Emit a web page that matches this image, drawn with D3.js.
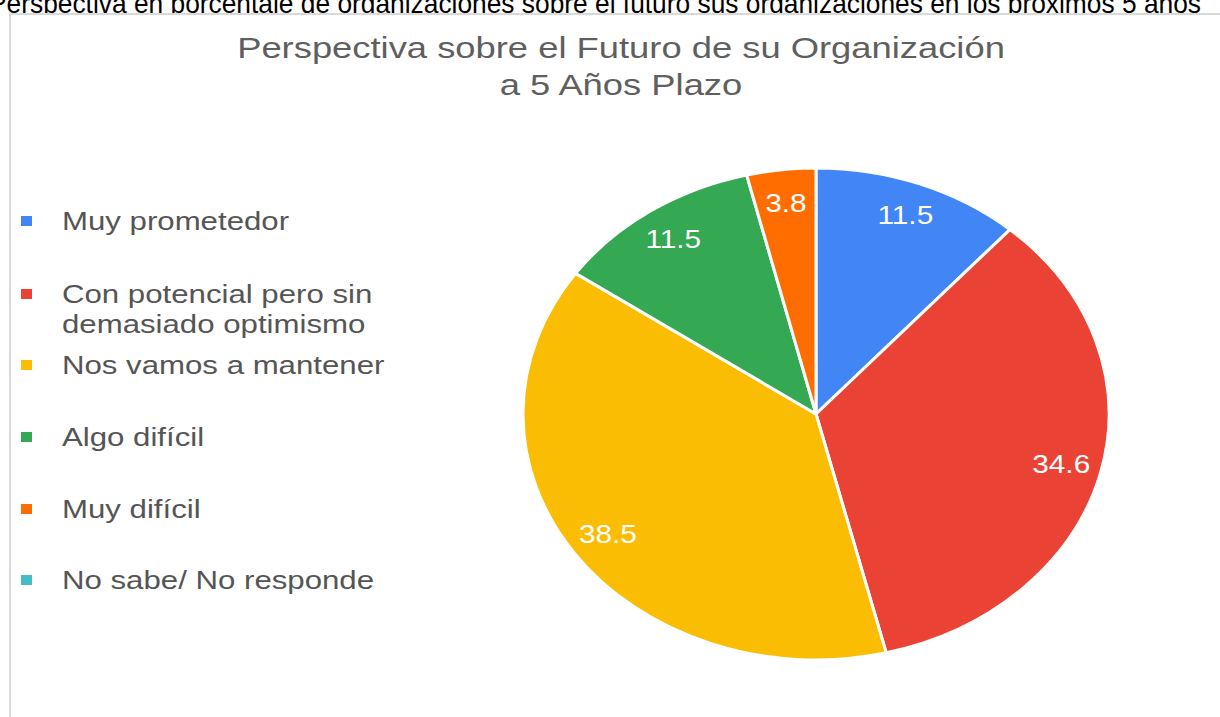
<!DOCTYPE html>
<html>
<head>
<meta charset="utf-8">
<script src="https://cdn.jsdelivr.net/npm/d3@7"></script>
<style>
  html, body { margin: 0; padding: 0; background: #fff; }
  svg { display: block; font-family: "Liberation Sans", Arial, sans-serif; }
</style>
</head>
<body>
<div id="chart"></div>
<script>
// data
let categories = ["Muy prometedor", "Con potencial pero sin demasiado optimismo", "Nos vamos a mantener", "Algo difícil", "Muy difícil", "No sabe/ No responde"];
let legendLines = [["Muy prometedor"], ["Con potencial pero sin", "demasiado optimismo"], ["Nos vamos a mantener"], ["Algo difícil"], ["Muy difícil"], ["No sabe/ No responde"]];
let values = [11.5, 34.6, 38.5, 11.5, 3.8, 0];
let colors = ["#4285f4", "#ea4335", "#fbbc04", "#34a853", "#ff6d01", "#46bdc6"];
let caption = "Perspectiva en porcentaje de organizaciones sobre el futuro sus organizaciones en los próximos 5 años";
let titleLines = ["Perspectiva sobre el Futuro de su Organización", "a 5 Años Plazo"];

let width = 1220;
let height = 717;
let sx = 1.2; // the whole chart is stretched sideways

let svg = d3.select("#chart")
	.append("svg")
	.attr("width", width)
	.attr("height", height);

// caption strip, cut off at the top as in the source page
svg.append("text")
	.attr("x", -11)
	.attr("y", 13)
	.attr("textLength", 1212)
	.attr("lengthAdjust", "spacingAndGlyphs")
	.style("font-size", "28px")
	.style("fill", "#000")
	.text(caption);

// chart frame
svg.append("rect")
	.attr("x", 10)
	.attr("y", 14)
	.attr("width", 1240)
	.attr("height", 740)
	.style("fill", "#fff")
	.style("stroke", "#d9d9d9")
	.style("stroke-width", 2);

// title
svg.selectAll(".title")
	.data(titleLines)
	.enter().append("text")
	.attr("class", "title")
	.attr("transform", function(d, i) { return "translate(621," + (58 + i * 37) + ") scale(" + sx + ",1)"; })
	.attr("text-anchor", "middle")
	.style("font-size", "30.3px")
	.style("fill", "#5f5f5f")
	.text(function(d) { return d; });

// pie, drawn as a circle and stretched into an ellipse
let ry = 246;
let rx = 293;
let pie = d3.pie().sort(null).value(function(d) { return d; });
let arc = d3.arc().innerRadius(0).outerRadius(ry);
let labelArc = d3.arc().innerRadius(212).outerRadius(212);
let arcs = pie(values);

let pieG = svg.append("g")
	.attr("transform", "translate(816,414) scale(" + (rx / ry) + ",1)");

pieG.selectAll(".slice")
	.data(arcs.filter(function(d) { return d.value > 0; }))
	.enter().append("path")
	.attr("class", "slice")
	.attr("d", arc)
	.style("fill", function(d) { return colors[d.index]; })
	.style("stroke", "#fff")
	.style("stroke-width", 3)
	.attr("vector-effect", "non-scaling-stroke");

pieG.selectAll(".lbl")
	.data(arcs.filter(function(d) { return d.value > 0; }))
	.enter().append("text")
	.attr("class", "lbl")
	.attr("x", function(d) { return labelArc.centroid(d)[0]; })
	.attr("y", function(d) { return labelArc.centroid(d)[1]; })
	.attr("text-anchor", "middle")
	.attr("dy", ".35em")
	.style("font-size", "25px")
	.style("fill", "#fff")
	.text(function(d) { return d.value.toFixed(1); });

// legend
let legendY = [221, 294, 365, 437, 509, 580];
let legend = svg.selectAll(".legend")
	.data(categories)
	.enter().append("g")
	.attr("class", "legend")
	.attr("transform", function(d, i) { return "translate(0," + legendY[i] + ")"; });

legend.append("rect")
	.attr("x", 21)
	.attr("y", -5)
	.attr("width", 11)
	.attr("height", 10)
	.style("fill", function(d, i) { return colors[i]; });

legend.append("text")
	.attr("transform", "translate(62,0) scale(" + sx + ",1)")
	.style("font-size", "26px")
	.style("fill", "#555")
	.selectAll("tspan")
	.data(function(d, i) { return legendLines[i]; })
	.enter().append("tspan")
	.attr("x", 0)
	.attr("y", function(d, j) { return 9 + j * 30; })
	.text(function(d) { return d; });
</script>
</body>
</html>
